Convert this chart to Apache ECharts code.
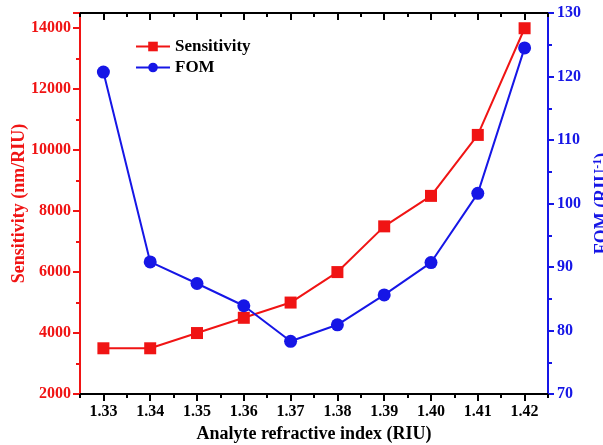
<!DOCTYPE html>
<html>
<head>
    <meta charset="utf-8" />
    <script src="https://cdn.jsdelivr.net/npm/echarts@6/dist/echarts.min.js"></script>
    <style>
        html, body { margin: 0; padding: 0; background: #fff; }
    </style>
</head>
<body>
    <div id="main" style="width:603px;height:445px;"></div>
    <script>
        var riIndex = ['1.33', '1.34', '1.35', '1.36', '1.37', '1.38', '1.39', '1.40', '1.41', '1.42'];
        var sensitivity = [3500, 3500, 4000, 4500, 5000, 6000, 7500, 8500, 10500, 14000];
        var fom = [120.7, 90.8, 87.4, 83.9, 78.3, 80.9, 85.6, 90.7, 101.6, 124.5];

        var RED = '#f01414';
        var BLUE = '#1616e6';
        var FONT = '"Liberation Serif", "DejaVu Serif", serif';

        var myChart = echarts.init(document.getElementById('main'));

        // two axes per edge: one for the major ticks on the labels, one for the minor ticks between
        function catAxis(pos, major, inside) {
            return {
                type: 'category',
                data: riIndex,
                position: pos,
                boundaryGap: true,
                axisLine: { show: major, lineStyle: { color: '#000', width: 2 } },
                axisTick: {
                    show: true,
                    alignWithLabel: major,
                    inside: inside,
                    length: major ? 7 : 4,
                    lineStyle: { color: '#000', width: 2 }
                },
                axisLabel: {
                    show: major && pos == 'bottom',
                    color: '#000',
                    fontFamily: FONT,
                    fontWeight: 'bold',
                    fontSize: 16,
                    margin: 10
                },
                name: major && pos == 'bottom' ? 'Analyte refractive index (RIU)' : '',
                nameLocation: 'middle',
                nameGap: 31,
                nameTextStyle: { color: '#000', fontFamily: FONT, fontWeight: 'bold', fontSize: 18 },
                splitLine: { show: false }
            };
        }

        var option = {
            animation: false,
            backgroundColor: '#fff',
            grid: { left: 80, right: 55, top: 13, bottom: 51, outerBoundsMode: 'none', containLabel: false },
            legend: {
                orient: 'vertical',
                left: 130,
                top: 33,
                itemWidth: 34,
                itemHeight: 12,
                itemGap: 4,
                textStyle: { color: '#000', fontFamily: FONT, fontWeight: 'bold', fontSize: 17 },
                data: ['Sensitivity', 'FOM']
            },
            xAxis: [
                catAxis('bottom', true, false),
                catAxis('bottom', false, false),
                catAxis('top', true, true),
                catAxis('top', false, true)
            ],
            yAxis: [
                {
                    type: 'value',
                    position: 'left',
                    min: 2000,
                    max: 14500,
                    interval: 2000,
                    name: 'Sensitivity (nm/RIU)',
                    nameLocation: 'middle',
                    nameRotate: 90,
                    nameGap: 52,
                    nameMoveOverlap: false,
                    nameTextStyle: { color: RED, fontFamily: FONT, fontWeight: 'bold', fontSize: 18 },
                    axisLine: { show: true, lineStyle: { color: RED, width: 2 } },
                    axisTick: { show: true, length: 7, lineStyle: { color: RED, width: 2 } },
                    minorTick: { show: true, splitNumber: 2, length: 4, lineStyle: { color: RED, width: 2 } },
                    axisLabel: {
                        color: RED, fontFamily: FONT, fontWeight: 'bold', fontSize: 16, margin: 9, showMaxLabel: false,
                        formatter: function (v) { return String(v); }
                    },
                    splitLine: { show: false }
                },
                {
                    type: 'value',
                    position: 'right',
                    min: 70,
                    max: 130,
                    interval: 10,
                    name: 'FOM (RIU{sup|-1})',
                    nameLocation: 'middle',
                    nameRotate: 90,
                    nameGap: 35,
                    nameTextStyle: {
                        color: BLUE, fontFamily: FONT, fontWeight: 'bold', fontSize: 18,
                        rich: { sup: { color: BLUE, fontFamily: FONT, fontWeight: 'bold', fontSize: 12, verticalAlign: 'top', padding: [0, 0, 8, 0] } }
                    },
                    axisLine: { show: true, lineStyle: { color: BLUE, width: 2 } },
                    axisTick: { show: true, length: 6, lineStyle: { color: BLUE, width: 2 } },
                    minorTick: { show: true, splitNumber: 2, length: 4, lineStyle: { color: BLUE, width: 2 } },
                    axisLabel: { color: BLUE, fontFamily: FONT, fontWeight: 'bold', fontSize: 16, margin: 9 },
                    splitLine: { show: false }
                }
            ],
            series: [
                {
                    name: 'Sensitivity',
                    type: 'line',
                    xAxisIndex: 0,
                    yAxisIndex: 0,
                    data: sensitivity,
                    symbol: 'rect',
                    symbolSize: 12,
                    lineStyle: { color: RED, width: 2 },
                    itemStyle: { color: RED }
                },
                {
                    name: 'FOM',
                    type: 'line',
                    xAxisIndex: 0,
                    yAxisIndex: 1,
                    data: fom,
                    symbol: 'circle',
                    symbolSize: 13,
                    lineStyle: { color: BLUE, width: 2 },
                    itemStyle: { color: BLUE }
                }
            ]
        };

        myChart.setOption(option);
    </script>
</body>
</html>
